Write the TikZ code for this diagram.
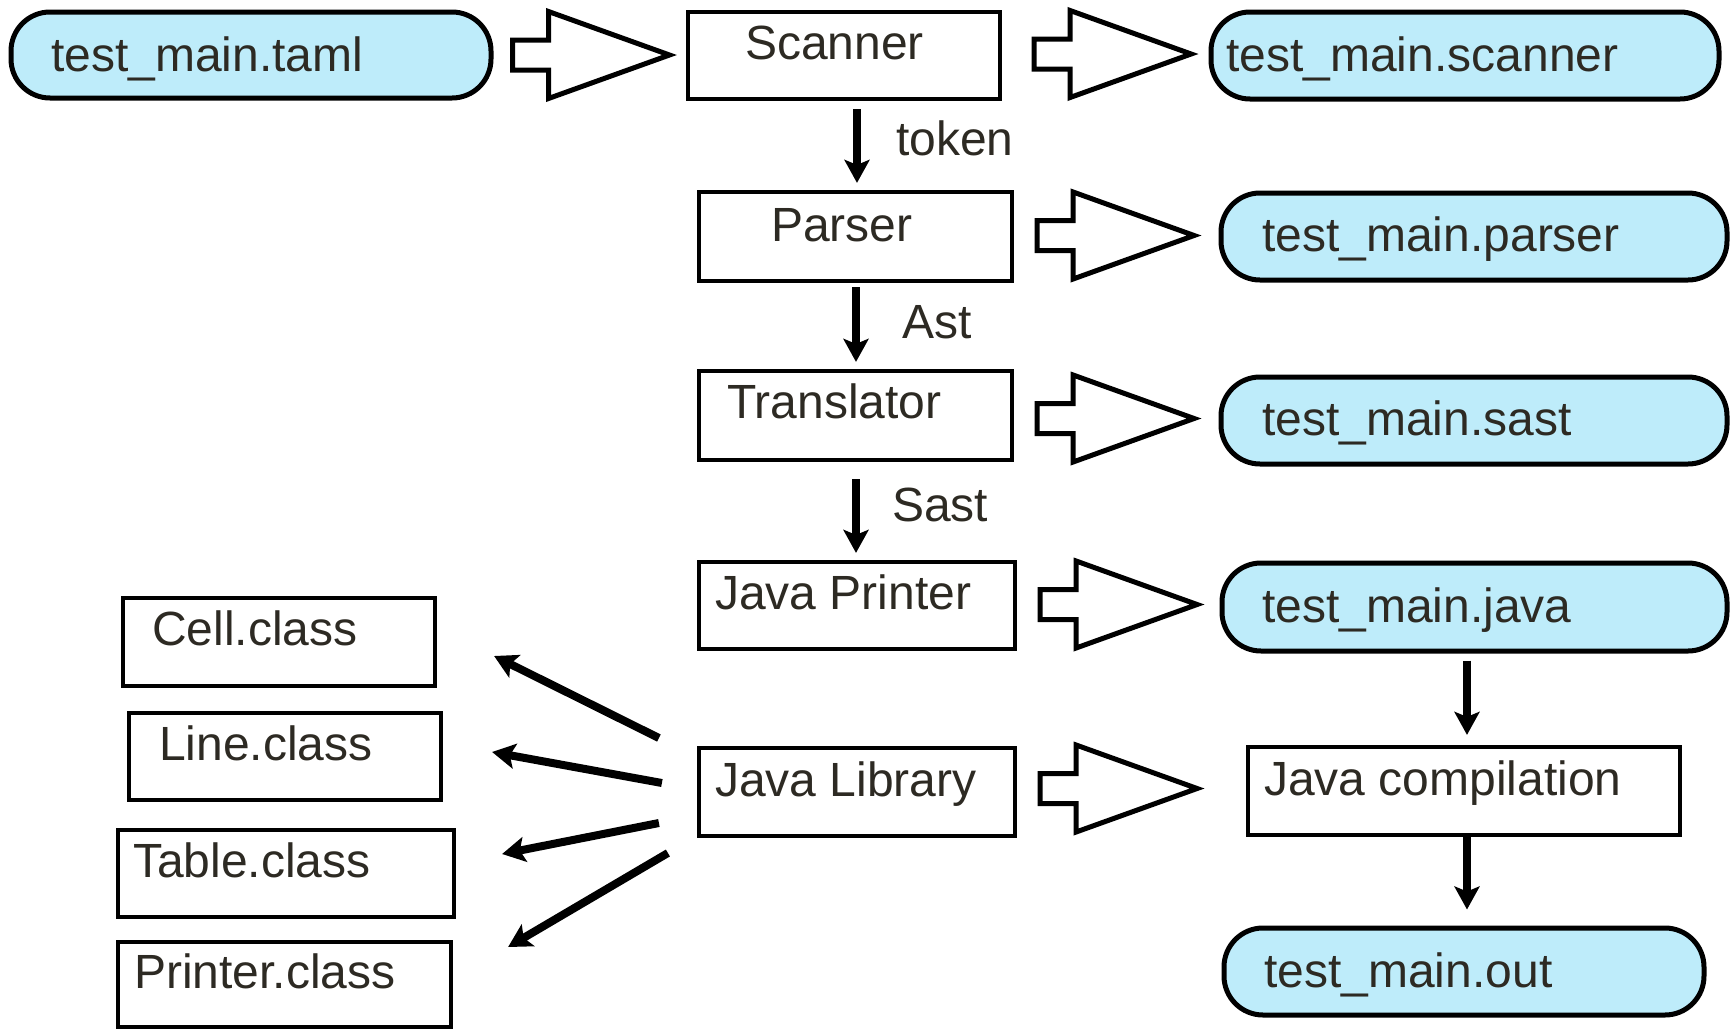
\documentclass[tikz,border=0pt]{standalone}
\usepackage{fontspec}
\setmainfont{Liberation Sans}
\usetikzlibrary{arrows.meta,calc}
\definecolor{pillblue}{RGB}{190,236,250}
\definecolor{ink}{RGB}{45,42,35}
\begin{document}
\begin{tikzpicture}[x=1pt,y=-1pt,
  pill/.style={draw=black,line width=5pt,fill=pillblue,rounded corners=39pt,rectangle,inner sep=0pt},
  stagebox/.style={draw=black,line width=4.2pt,fill=white,rectangle,inner sep=0pt},
  txt/.style={text=ink,inner sep=0pt,anchor=base west,font=\fontsize{48pt}{56pt}\selectfont},
  flow/.style={line width=8pt,-{Stealth[length=23pt,width=25pt,inset=5pt]}},
  blk/.style={draw=black,fill=white,line width=5pt,line join=miter},
  blockarr/.pic={\path[blk] (0,-15) -- (36,-15) -- (36,-43.5) -- (157,0) -- (36,43.5) -- (36,15) -- (0,15) -- cycle;}
]
\useasboundingbox (0,0) rectangle (1730,1031);

% pills
\node[pill,minimum width=480pt,minimum height=86pt] (taml) at (251,55) {};
\node[pill,minimum width=508pt,minimum height=87pt] (scanpill) at (1465,55.5) {};
\node[pill,minimum width=506pt,minimum height=87pt] (parsepill) at (1474,236.5) {};
\node[pill,minimum width=506pt,minimum height=87pt] (sastpill) at (1474,420.5) {};
\node[pill,minimum width=505pt,minimum height=88pt] (javapill) at (1474.5,607) {};
\node[pill,minimum width=480pt,minimum height=87pt] (outpill) at (1464,971.5) {};

% boxes
\node[stagebox,minimum width=312pt,minimum height=87pt] (scanner) at (844,55.5) {};
\node[stagebox,minimum width=313pt,minimum height=89pt] (parser) at (855.5,236.5) {};
\node[stagebox,minimum width=313pt,minimum height=89pt] (translator) at (855.5,415.5) {};
\node[stagebox,minimum width=316pt,minimum height=87pt] (printer) at (857,605.5) {};
\node[stagebox,minimum width=316pt,minimum height=88pt] (library) at (857,792) {};
\node[stagebox,minimum width=432pt,minimum height=88pt] (jc) at (1464,791) {};
\node[stagebox,minimum width=312pt,minimum height=88pt] (cell) at (279,642) {};
\node[stagebox,minimum width=312pt,minimum height=87pt] (line) at (285,756.5) {};
\node[stagebox,minimum width=336pt,minimum height=87pt] (table) at (286,873.5) {};
\node[stagebox,minimum width=333pt,minimum height=85pt] (printercls) at (284.5,984.5) {};

% texts
\node[txt] (t-taml) at (51,71) {test\_main.taml};
\node[txt] (t-scanner) at (745,59) {Scanner};
\node[txt] (t-scanpill) at (1226,71) {test\_main.scanner};
\node[txt] (t-token) at (896,155) {token};
\node[txt] (t-parser) at (771,241) {Parser};
\node[txt] (t-parsepill) at (1262,251) {test\_main.parser};
\node[txt] (t-ast) at (902,338) {Ast};
\node[txt] (t-translator) at (727,418) {Translator};
\node[txt] (t-sastpill) at (1262,435) {test\_main.sast};
\node[txt] (t-sast) at (892,521) {Sast};
\node[txt] (t-printer) at (715,609) {Java Printer};
\node[txt] (t-javapill) at (1262,622) {test\_main.java};
\node[txt] (t-library) at (715,796) {Java Library};
\node[txt] (t-jc) at (1264,795) {Java compilation};
\node[txt] (t-out) at (1264,987) {test\_main.out};
\node[txt] (t-cell) at (152,645) {Cell.class};
\node[txt] (t-line) at (159,760) {Line.class};
\node[txt] (t-table) at (133,877) {Table.class};
\node[txt] (t-printercls) at (134,988) {Printer.class};

% block arrows
\pic at ($(taml.east)+(19,0)$) {blockarr};
\pic at ($(scanner.east)+(32,-1.5)$) {blockarr};
\pic at ($(parser.east)+(23,-1)$) {blockarr};
\pic at ($(translator.east)+(23,3)$) {blockarr};
\pic at ($(printer.east)+(23,-1)$) {blockarr};
\pic at ($(library.east)+(23,-3.5)$) {blockarr};

% vertical flow arrows
\draw[flow] ($(scanner.south)+(13,8)$) -- ($(parser.north)+(1.5,-7)$);
\draw[flow] ($(parser.south)+(0.5,4)$) -- ($(translator.north)+(0.5,-7)$);
\draw[flow] ($(translator.south)+(0.5,17)$) -- ($(printer.north)+(-1,-7)$);
\draw[flow] ($(javapill.south)+(-7.5,7)$) -- ($(jc.north)+(3,-10)$);
\draw[flow] ($(jc.south)+(3,0)$) -- ($(outpill.north)+(3,-16)$);

% library arrows
\draw[flow] ($(library.west)+(-38,-54)$) -- ($(cell.east)+(57,14)$);
\draw[flow] ($(library.west)+(-35,-9)$) -- ($(line.east)+(49,-4.5)$);
\draw[flow] ($(library.west)+(-38,31)$) -- ($(table.east)+(46,-19.5)$);
\draw[flow] ($(library.west)+(-29,61)$) -- ($(printercls.east)+(55,-37.5)$);
\end{tikzpicture}
\end{document}
